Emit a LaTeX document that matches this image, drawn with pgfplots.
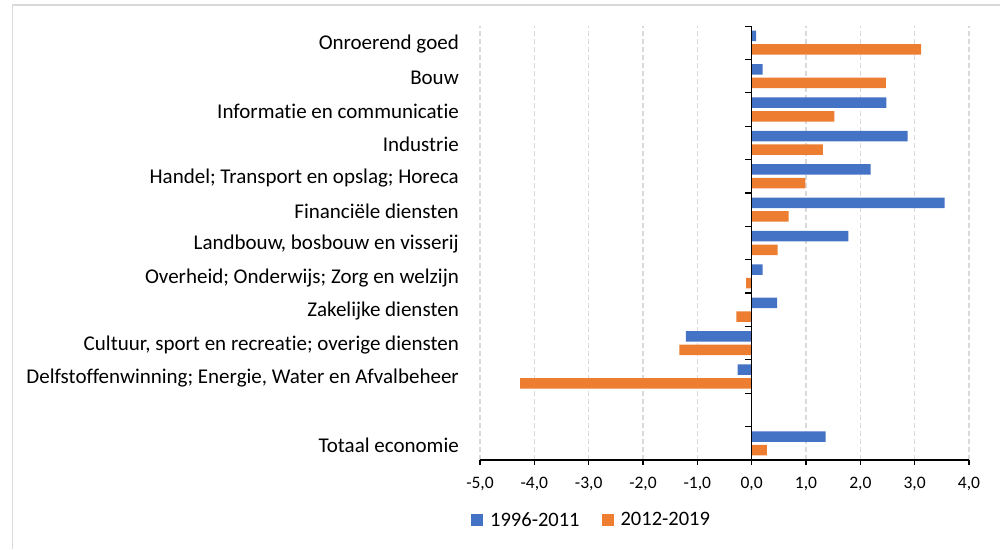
\documentclass[border=0pt]{standalone}
\usepackage{fontspec}
\setmainfont{Carlito}[Ligatures={NoCommon}]
\usepackage{pgfplots}
\pgfplotsset{compat=1.18}
\definecolor{xlblue}{HTML}{4472C4}
\definecolor{xlorange}{HTML}{ED7D31}
\definecolor{xlgrid}{HTML}{D9D9D9}

\begin{document}
\begin{tikzpicture}
\path[use as bounding box] (0pt,0pt) rectangle (1000pt,-549pt);
% chart frame (only top and left edge are in view)
\draw[xlgrid, line width=1.5pt] (12.5pt,-549pt) -- (12.5pt,-5pt) -- (1000pt,-5pt);

\begin{axis}[
    at={(480pt,-460pt)}, anchor=south west,
    scale only axis,
    width=489pt, height=434pt,
    xbar,
    xmin=-5, xmax=4,
    ymin=-0.5, ymax=12.5,
    enlargelimits=false,
    axis x line*=bottom,
    axis y line*=left,
    y axis line style={draw=none},
    x axis line style={black, line width=1.2pt},
    ytick style={draw=none},
    xtick style={black, line width=1.2pt},
    tick align=outside,
    major tick length=5pt,
    xtick={-5,-4,...,4},
    xmajorgrids,
    grid style={xlgrid, line width=1.3pt, dash pattern=on 5pt off 3pt},
    ytick={0,2,3,4,5,6,7,8,9,10,11,12},
    yticklabels={Totaal economie,
        {Delfstoffenwinning; Energie, Water en Afvalbeheer},
        {Cultuur, sport en recreatie; overige diensten},
        Zakelijke diensten,
        Overheid; Onderwijs; Zorg en welzijn,
        {Landbouw, bosbouw en visserij},
        Financiële diensten,
        Handel; Transport en opslag; Horeca,
        Industrie,
        Informatie en communicatie,
        Bouw,
        Onroerend goed},
    yticklabel style={font=\fontsize{21}{24}\selectfont, anchor=east, inner sep=0pt, xshift=-16pt, yshift=-1.5pt},
    xticklabel style={font=\fontsize{17.5}{20}\selectfont, inner sep=0pt, yshift=-12pt,
        /pgf/number format/.cd, fixed, fixed zerofill, precision=1, use comma, assume math mode=true},
    bar width=10.5pt,
    legend columns=2,
    legend style={at={(-0.0184,-0.138)}, anchor=west, draw=none, fill=none,
        inner sep=0pt, nodes={inner sep=0pt},
        font=\fontsize{20.5}{24}\selectfont},
    legend image code/.code={\fill[#1] (0pt,-6pt) rectangle (12pt,6pt); \path (19pt,0pt);},
]

\addplot[xbar, bar shift=6.8pt, fill=xlblue, draw=none] coordinates {
    (0.08,12) (0.20,11) (2.48,10) (2.87,9) (2.19,8) (3.55,7)
    (1.78,6) (0.20,5) (0.47,4) (-1.21,3) (-0.26,2) (1.36,0)};
\addlegendentry{1996-2011\hspace*{22pt}}

\addplot[xbar, bar shift=-6.8pt, fill=xlorange, draw=none] coordinates {
    (3.12,12) (2.47,11) (1.52,10) (1.31,9) (0.99,8) (0.68,7)
    (0.48,6) (-0.10,5) (-0.28,4) (-1.33,3) (-4.26,2) (0.28,0)};
\addlegendentry{2012-2019}

% vertical axis line at zero with category separators
\draw[black, line width=1.2pt] (axis cs:0,-0.5) -- (axis cs:0,12.5);
\pgfplotsinvokeforeach{-0.5,0.5,...,12.5}{
    \draw[black, line width=1.2pt] (axis cs:0,#1) -- ++(-7pt,0pt);
}
\end{axis}
\end{tikzpicture}
\end{document}
